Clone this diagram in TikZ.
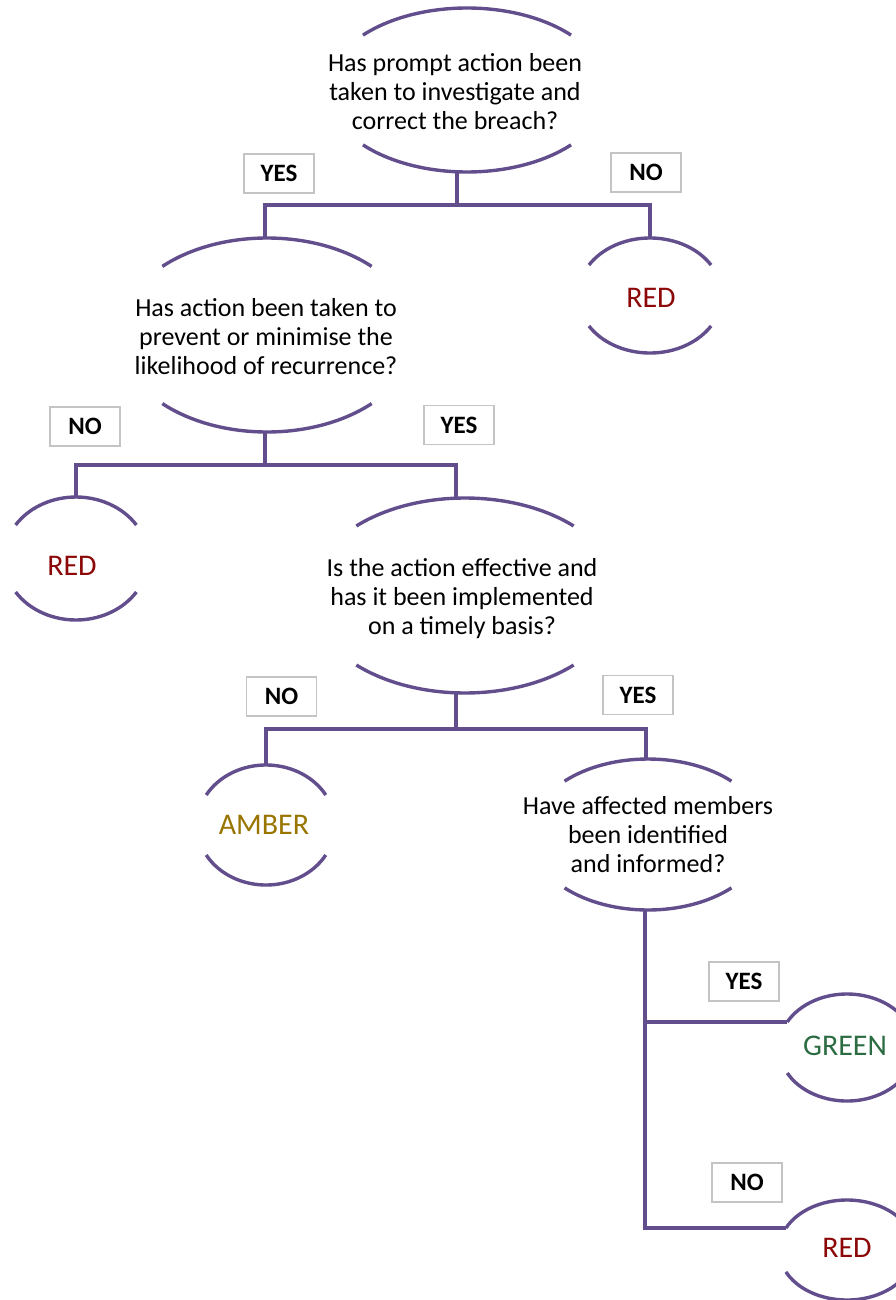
\documentclass[tikz,border=0pt]{standalone}
\usepackage{fontspec}
\setmainfont{Carlito}
\usetikzlibrary{shapes.geometric,calc}

\definecolor{flowpurple}{RGB}{98,78,140}
\definecolor{tagborder}{RGB}{196,196,196}
\definecolor{redout}{RGB}{140,8,8}
\definecolor{amberout}{RGB}{153,117,0}
\definecolor{greenout}{RGB}{44,108,66}

\tikzset{
  flow/.style={draw=flowpurple, line width=3.4pt},
  cutshape/.style={ellipse, draw=none, inner sep=0pt, outer sep=0pt},
  qtext/.style={align=center, inner sep=0pt, font=\fontsize{26}{29}\selectfont},
  outcome/.style={inner sep=0pt, font=\fontsize{30}{34}\selectfont},
  tag/.style={draw=tagborder, line width=1.3pt, fill=white, minimum width=70pt,
              minimum height=39pt, inner sep=0pt, font=\bfseries\fontsize{25}{28}\selectfont},
}

% Ellipse whose left and right sides are cut away: only the top and bottom arcs are drawn.
% #1 name, #2 x, #3 y, #4 x radius, #5 y radius, #6 cut angle
\newcommand\cutell[6]{%
  \node[cutshape, minimum width=2*#4, minimum height=2*#5] (#1) at (#2,#3) {};
  \draw[flow] (#1.center) ++(#6:#4 and #5) arc[start angle=#6, end angle=180-#6, x radius=#4, y radius=#5];
  \draw[flow] (#1.center) ++(180+#6:#4 and #5) arc[start angle=180+#6, end angle=360-#6, x radius=#4, y radius=#5];
  \path (#1.center) ++(180-#6:#4 and #5) coordinate (#1-in);
}

\begin{document}
\begin{tikzpicture}[x=1pt, y=1pt]
\useasboundingbox (0,0) rectangle (896,-1300);

% decision and outcome shapes
\cutell{A}{467}{-90}{140}{82}{42}
\cutell{B}{267}{-335}{148}{97}{45}
\cutell{C}{465}{-595.5}{155}{97.5}{45.5}
\cutell{D}{648}{-834.5}{118}{75.5}{45}
\cutell{E}{650}{-295.5}{72}{57.5}{32}
\cutell{F}{76}{-558.5}{72}{61.5}{33}
\cutell{G}{266}{-825}{69}{60}{30}
\cutell{H}{847}{-1047.5}{68}{53.5}{28.5}
\cutell{I}{847}{-1250}{68}{50}{26}

% texts
\node[qtext] (At) at (455,-92) {Has prompt action been\\taken to investigate and\\correct the breach?};
\node[qtext] (Bt) at (266,-337) {Has action been taken to\\prevent or minimise the\\likelihood of recurrence?};
\node[qtext] (Ct) at (462,-599) {Is the action effective and\\has it been implemented\\on a timely basis?};
\node[qtext] (Dt) at (648,-835) {Have affected members\\been identified\\and informed?};
\node[outcome, text=redout] (Et) at (651,-298) {RED};
\node[outcome, text=redout] (Ft) at (72,-566) {RED};
\node[outcome, text=amberout] (Gt) at (264,-825) {AMBER};
\node[outcome, text=greenout] (Ht) at (845,-1046) {GREEN};
\node[outcome, text=redout] (It) at (847,-1248) {RED};

% connectors
\draw[flow] ([xshift=-10pt]A.south) -- ++(0,-33) coordinate (j1);
\draw[flow] ([xshift=-2pt]B.north) |- (j1) -| (E.north);
\draw[flow] ([xshift=-2pt]B.south) -- ++(0,-33) coordinate (j2);
\draw[flow] (F.north) |- (j2) -| ([xshift=-9pt]C.north);
\draw[flow] ([xshift=-9pt]C.south) -- ++(0,-36) coordinate (j3);
\draw[flow] (G.north) |- (j3) -| ([xshift=-2pt]D.north);
\draw[flow] ([xshift=-3pt]D.south) |- (H-in);
\draw[flow] ([xshift=-3pt]D.south) |- (I-in);

% answer tags
\node[tag] (yes1) at (279,-173.5) {YES};
\node[tag] (no1) at (646,-172.5) {NO};
\node[tag] (no2) at (85,-426.5) {NO};
\node[tag] (yes2) at (459,-425) {YES};
\node[tag] (no3) at (281.5,-696.5) {NO};
\node[tag] (yes3) at (638,-695) {YES};
\node[tag] (yes4) at (744,-981.5) {YES};
\node[tag] (no4) at (747,-1182.5) {NO};
\end{tikzpicture}
\end{document}
